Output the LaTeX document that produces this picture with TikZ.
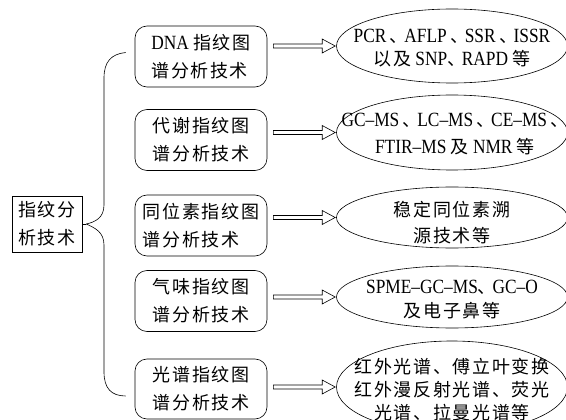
\documentclass[tikz,border=0pt]{standalone}
\usepackage{fontspec}
\setmainfont{Liberation Serif}[FakeStretch=0.86,Scale=1.12]
\newfontfamily\cjk{Noto Sans CJK SC}[LetterSpace=9]
\usetikzlibrary{shapes.geometric,calc}
\newcommand\zh[1]{{\cjk #1}}
\begin{document}
\begin{tikzpicture}[line width=0.6pt,
  txt/.style={font=\fontsize{18}{28}\selectfont},
  rootbox/.style={draw,txt,align=center,minimum width=70pt,minimum height=56pt,inner sep=0pt},
  techbox/.style={draw,rounded corners=12pt,txt,align=left,minimum width=132pt,minimum height=61pt,inner sep=0pt},
  result/.style={draw,ellipse,minimum width=231pt,inner sep=0pt},
  restext/.style={align=center,inner sep=0pt},
  dblarrow/.style={line width=0.6pt}
]
\useasboundingbox (0pt,0pt) rectangle (566pt,-420pt);

\node[rootbox] (root) at (47pt,-224pt) {\zh{指纹分}\\\zh{析技术}};

\node[techbox] (b1) at (201pt,-56.5pt) {DNA \zh{指纹图}\\\zh{谱分析技术}};
\node[techbox] (b2) at (201pt,-140pt) {\zh{代谢指纹图}\\\zh{谱分析技术}};
\node[techbox] (b3) at (201pt,-225.5pt) {\zh{同位素指纹图}\\\zh{谱分析技术}};
\node[techbox] (b4) at (201pt,-301pt) {\zh{气味指纹图}\\\zh{谱分析技术}};
\node[techbox,minimum height=60pt] (b5) at (201pt,-389pt) {\zh{光谱指纹图}\\\zh{谱分析技术}};

\node[result,minimum height=74pt] (e1) at (452pt,-46pt) {};
\node[restext,font=\fontsize{18}{23}\selectfont] (t1) at ($(e1.center)+(0,-2pt)$)
  {PCR\,\zh{、}\!AFLP\,\zh{、}\!SSR\,\zh{、}\!ISSR\\\zh{以及} SNP\zh{、}\!RAPD \zh{等}};
\node[result,minimum height=75pt] (e2) at (452pt,-132.5pt) {};
\node[restext,font=\fontsize{18}{27}\selectfont] (t2) at ($(e2.center)+(3pt,-2pt)$)
  {GC--MS\,\zh{、}\!LC--MS\,\zh{、}\!CE--MS\,\zh{、}\\FTIR--MS \zh{及} NMR \zh{等}};
\node[result,minimum height=61pt] (e3) at (452pt,-217.5pt) {};
\node[restext,font=\fontsize{18}{26}\selectfont] (t3) at ($(e3.center)+(0,-5pt)$)
  {\zh{稳定同位素溯}\\\zh{源技术等}};
\node[result,minimum height=62pt] (e4) at (452pt,-297pt) {};
\node[restext,font=\fontsize{18}{24}\selectfont] (t4) at ($(e4.center)+(0,-3pt)$)
  {SPME--GC--MS\zh{、}\!GC--O\\\zh{及电子鼻等}};
\node[result,minimum height=92pt] (e5) at (452pt,-387pt) {};
\node[restext,font=\fontsize{18}{23}\selectfont] (t5) at ($(e5.center)+(0,-3pt)$)
  {\zh{红外光谱、傅立叶变换}\\\zh{红外漫反射光谱、荧光}\\\zh{光谱、拉曼光谱等}};

% brace
\coordinate (bt) at ($(b1.west)+(-9pt,4pt)$);
\coordinate (bb) at ($(b5.west)+(-9pt,-7pt)$);
\draw (root.east) -- ++(4pt,0pt) coordinate (cusp);
\draw (bt) .. controls (111pt,-54pt) and (104pt,-62pt) .. (104pt,-78pt) -- (104pt,-205pt)
  .. controls (104pt,-218pt) and (95pt,-222pt) .. (cusp);
\draw (cusp) .. controls (95pt,-228pt) and (104pt,-232pt) .. (104pt,-245pt) -- (104pt,-372pt)
  .. controls (104pt,-388pt) and (111pt,-396pt) .. (bb);

% double arrows
\foreach \i in {1,...,5}{
  \draw[dblarrow] let \p1=(b\i.east), \p2=(e\i.west) in
    (\x1+6pt,\y2+2pt) -- (\x2-14pt,\y2+2pt) -- (\x2-14pt,\y2+7pt) -- (\x2-1pt,\y2)
    -- (\x2-14pt,\y2-7pt) -- (\x2-14pt,\y2-2pt) -- (\x1+6pt,\y2-2pt) -- cycle;
}
\end{tikzpicture}
\end{document}
